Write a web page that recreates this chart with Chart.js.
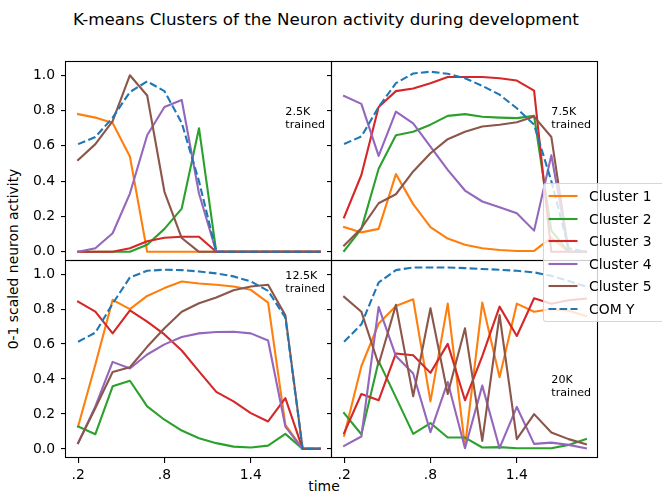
<!DOCTYPE html>
<html>
<head>
<meta charset="utf-8">
<title>K-means Clusters of the Neuron activity during development</title>
<script src="https://cdn.jsdelivr.net/npm/chart.js@4.4.1/dist/chart.umd.min.js"></script>
<style>
  html, body { margin: 0; padding: 0; background: #fff; }
  #fig { position: relative; width: 662px; height: 496px; overflow: hidden;
         font-family: "DejaVu Sans", sans-serif; color: #000; }
  #fig canvas { position: absolute; }
  .txt { position: absolute; white-space: nowrap; line-height: 1; transform: translate(-50%, -50%); }
  #legend { position: absolute; left: 543px; top: 183px; width: 126px; height: 139px; box-sizing: border-box;
            background: rgba(255,255,255,0.8); border: 1px solid rgba(204,204,204,0.8); border-radius: 3px; }
  #legend .row { position: absolute; left: 0; height: 16px; width: 130px; }
  #legend svg { position: absolute; left: 4px; top: 0; }
  #legend span { position: absolute; left: 45px; top: 0; font-size: 13.9px; line-height: 16px; white-space: nowrap; }
</style>
</head>
<body>
<div id="fig">
  <div class="txt" style="left:326px; top:19px; font-size:16.7px;">K-means Clusters of the Neuron activity during development</div>
  <div class="txt" style="left:14px; top:259px; font-size:13.9px; transform:translate(-50%,-50%) rotate(-90deg);">0-1 scaled neuron activity</div>
  <div class="txt" style="left:324px; top:487px; font-size:13.9px;">time</div>
  <canvas id="p25"></canvas>
  <canvas id="p75"></canvas>
  <canvas id="p125"></canvas>
  <canvas id="p20"></canvas>
  <div id="legend"></div>
</div>
<script>
// ---- series ----------------------------------------------------------
const seriesNames  = ['Cluster 1', 'Cluster 2', 'Cluster 3', 'Cluster 4', 'Cluster 5', 'COM Y'];
const seriesColors = ['#ff7f0e', '#2ca02c', '#d62728', '#9467bd', '#8c564b', '#1f77b4'];

// time axis: 15 sampling steps, labelled at a few of them
const timeTickSteps  = [0, 5, 10];
const timeTickLabels = ['.2', '.8', '1.4'];
const activityTicks  = [0, 0.2, 0.4, 0.6, 0.8, 1.0];

// 2.5K trained
const c1_2k5  = [0.78, 0.76, 0.73, 0.54, 0, 0, 0, 0, 0, 0, 0, 0, 0, 0, 0];
const c2_2k5  = [0, 0, 0, 0, 0.04, 0.13, 0.245, 0.70, 0, 0, 0, 0, 0, 0, 0];
const c3_2k5  = [0, 0, 0, 0.02, 0.06, 0.08, 0.085, 0.085, 0, 0, 0, 0, 0, 0, 0];
const c4_2k5  = [0, 0.02, 0.105, 0.33, 0.66, 0.82, 0.86, 0.33, 0, 0, 0, 0, 0, 0, 0];
const c5_2k5  = [0.52, 0.61, 0.74, 1.0, 0.885, 0.34, 0.078, 0, 0, 0, 0, 0, 0, 0, 0];
const com_2k5 = [0.61, 0.65, 0.76, 0.905, 0.965, 0.91, 0.73, 0.40, 0, 0, 0, 0, 0, 0, 0];

// 7.5K trained
const c1_7k5  = [0.14, 0.11, 0.13, 0.44, 0.27, 0.14, 0.075, 0.04, 0.02, 0.01, 0.005, 0.005, 0.08, 0, 0];
const c2_7k5  = [0.005, 0.13, 0.47, 0.66, 0.68, 0.72, 0.77, 0.78, 0.765, 0.76, 0.757, 0.77, 0.12, 0, 0];
const c3_7k5  = [0.195, 0.435, 0.82, 0.91, 0.925, 0.955, 0.99, 0.99, 0.99, 0.983, 0.97, 0.913, 0, 0, 0];
const c4_7k5  = [0.883, 0.838, 0.543, 0.794, 0.728, 0.596, 0.464, 0.347, 0.285, 0.253, 0.219, 0.12, 0.547, 0, 0];
const c5_7k5  = [0.036, 0.134, 0.275, 0.326, 0.455, 0.558, 0.638, 0.68, 0.71, 0.72, 0.734, 0.766, 0.65, 0, 0];
const com_7k5 = [0.611, 0.653, 0.82, 0.955, 1.01, 1.02, 1.008, 0.983, 0.94, 0.89, 0.813, 0.72, 0.40, 0.02, 0];

// 12.5K trained
const c1_12k5  = [0.128, 0.483, 0.853, 0.80, 0.875, 0.92, 0.958, 0.946, 0.939, 0.929, 0.91, 0.837, 0.138, 0, 0];
const c2_12k5  = [0.128, 0.084, 0.358, 0.39, 0.243, 0.167, 0.105, 0.061, 0.033, 0.013, 0.008, 0.019, 0.086, 0, 0];
const c3_12k5  = [0.843, 0.785, 0.661, 0.793, 0.728, 0.655, 0.563, 0.444, 0.326, 0.272, 0.205, 0.157, 0.291, 0, 0];
const c4_12k5  = [0.033, 0.243, 0.498, 0.46, 0.54, 0.598, 0.64, 0.661, 0.669, 0.67, 0.661, 0.62, 0.128, 0, 0];
const c5_12k5  = [0.033, 0.234, 0.44, 0.467, 0.584, 0.69, 0.785, 0.833, 0.866, 0.908, 0.929, 0.939, 0.764, 0, 0];
const com_12k5 = [0.613, 0.665, 0.831, 0.981, 1.019, 1.025, 1.023, 1.015, 1.004, 0.987, 0.958, 0.904, 0.751, 0, 0];

// 20K trained
const c1_20k  = [0.075, 0.473, 0.716, 0.818, 0.856, 0.272, 0.831, 0.013, 0.837, 0.41, 0.831, 0.785, 0.80, 0.79, 0.76];
const c2_20k  = [0.205, 0.084, 0.502, 0.295, 0.086, 0.148, 0.065, 0.065, 0.008, 0.01, 0.004, 0.004, 0.004, 0.023, 0.056];
const c3_20k  = [0.09, 0.314, 0.278, 0.546, 0.536, 0.435, 0.601, 0.278, 0.531, 0.814, 0.646, 0.862, 0.83, 0.85, 0.86];
const c4_20k  = [0.017, 0.071, 0.812, 0.531, 0.431, 0.096, 0.383, 0.004, 0.362, 0.004, 0.24, 0.029, 0.036, 0.023, 0.004];
const c5_20k  = [0.87, 0.785, 0.483, 0.824, 0.301, 0.805, 0.314, 0.69, 0.046, 0.766, 0.056, 0.199, 0.094, 0.056, 0.027];
const com_20k = [0.613, 0.713, 0.952, 1.023, 1.038, 1.038, 1.038, 1.034, 1.029, 1.025, 1.019, 1.01, 0.99, 0.96, 0.93];

const runNames = ['2.5K', '7.5K', '12.5K', '20K'];

// ---- shared axis limits (with a small margin around the data) -----------
const X_MIN = -0.7, X_MAX = 14.7;
const Y_MIN = -0.052, Y_MAX = 1.075;
const FONT = '"DejaVu Sans", sans-serif';

// box outline on all four sides of every panel
const framePlugin = {
  id: 'frame',
  afterDraw(chart) {
    const a = chart.chartArea, ctx = chart.ctx;
    const l = Math.round(a.left) - 0.5, t = Math.round(a.top) - 0.5;
    const r = Math.round(a.right) - 0.5, b = Math.round(a.bottom) - 0.5;
    ctx.save();
    ctx.strokeStyle = '#000';
    ctx.lineWidth = 1.1;
    ctx.strokeRect(l, t, r - l, b - t);
    ctx.restore();
  }
};

// "<run>\ntrained" note, anchored in data coordinates (baseline of last line)
const runNotePlugin = {
  id: 'runNote',
  afterDatasetsDraw(chart, args, opts) {
    if (!opts || !opts.lines) return;
    const ctx = chart.ctx;
    const x = chart.scales.x.getPixelForValue(opts.x);
    const y = chart.scales.y.getPixelForValue(opts.y);
    ctx.save();
    ctx.font = '11.1px ' + FONT;
    ctx.fillStyle = '#000';
    ctx.textAlign = 'left';
    ctx.textBaseline = 'alphabetic';
    const n = opts.lines.length;
    opts.lines.forEach((s, k) => ctx.fillText(s, x, y - (n - 1 - k) * 13));
    ctx.restore();
  }
};

function makeDatasets(series) {
  return seriesNames.map((name, k) => ({
    label: name,
    data: series[k].map((v, i) => ({ x: i, y: v })),
    borderColor: seriesColors[k],
    backgroundColor: seriesColors[k],
    borderWidth: 2.1,
    borderDash: k === 5 ? [7.7, 3.3] : [],
    borderJoinStyle: 'round',
    borderCapStyle: k === 5 ? 'butt' : 'square',
    pointRadius: 0,
    tension: 0,
    fill: false,
    order: k === 5 ? 0 : 5 - k
  }));
}

function makePanel(id, series, p) {
  const cv = document.getElementById(id);
  cv.width = p.box.w; cv.height = p.box.h;
  cv.style.left = p.box.x + 'px'; cv.style.top = p.box.y + 'px';
  cv.style.width = p.box.w + 'px'; cv.style.height = p.box.h + 'px';
  return new Chart(cv, {
    type: 'line',
    data: { datasets: makeDatasets(series) },
    options: {
      responsive: false,
      animation: false,
      devicePixelRatio: 1,
      events: [],
      layout: { padding: p.padding },
      plugins: {
        legend: { display: false },
        tooltip: { enabled: false },
        runNote: { x: 12, y: p.noteY, lines: [p.run, 'trained'] }
      },
      scales: {
        x: {
          type: 'linear', min: X_MIN, max: X_MAX,
          display: p.showX,
          afterBuildTicks: s => { s.ticks = timeTickSteps.map(v => ({ value: v })); },
          afterFit: s => { s.height = p.xHeight; },
          ticks: {
            autoSkip: false, maxRotation: 0, padding: 4, color: '#000',
            font: { family: FONT, size: 13.9 },
            callback: (v, i) => timeTickLabels[i]
          },
          grid: { drawOnChartArea: false, drawTicks: true, tickLength: 5, color: '#000', lineWidth: 1.1 },
          border: { display: false }
        },
        y: {
          type: 'linear', min: Y_MIN, max: Y_MAX,
          afterBuildTicks: s => { s.ticks = activityTicks.map(v => ({ value: v })); },
          afterFit: s => { s.width = p.yWidth; },
          ticks: {
            display: p.yLabels, padding: 6, color: '#000',
            font: { family: FONT, size: 13.9 },
            callback: v => v.toFixed(1)
          },
          grid: { drawOnChartArea: false, drawTicks: true, tickLength: 5, color: '#000', lineWidth: 1.1 },
          border: { display: false }
        }
      }
    },
    plugins: [framePlugin, runNotePlugin]
  });
}

// generous outer padding keeps the plot area fixed regardless of label overhang
const charts = [
  makePanel('p25', [c1_2k5, c2_2k5, c3_2k5, c4_2k5, c5_2k5, com_2k5], {
    run: runNames[0], noteY: 0.7, box: { x: 0, y: 42, w: 352, h: 239 },
    padding: { top: 20, right: 20, bottom: 20, left: 0 }, yWidth: 66, yLabels: true, showX: false, xHeight: 0 }),
  makePanel('p75', [c1_7k5, c2_7k5, c3_7k5, c4_7k5, c5_7k5, com_7k5], {
    run: runNames[1], noteY: 0.7, box: { x: 322, y: 42, w: 296, h: 239 },
    padding: { top: 20, right: 20, bottom: 20, left: 0 }, yWidth: 10, yLabels: false, showX: false, xHeight: 0 }),
  makePanel('p125', [c1_12k5, c2_12k5, c3_12k5, c4_12k5, c5_12k5, com_12k5], {
    run: runNames[2], noteY: 0.9, box: { x: 0, y: 241, w: 352, h: 255 },
    padding: { top: 20, right: 20, bottom: 0, left: 0 }, yWidth: 66, yLabels: true, showX: true, xHeight: 38 }),
  makePanel('p20', [c1_20k, c2_20k, c3_20k, c4_20k, c5_20k, com_20k], {
    run: runNames[3], noteY: 0.3, box: { x: 322, y: 241, w: 296, h: 255 },
    padding: { top: 20, right: 20, bottom: 0, left: 0 }, yWidth: 10, yLabels: false, showX: true, xHeight: 38 })
];

// figure legend, built from the datasets of the last panel
(function buildLegend() {
  const box = document.getElementById('legend');
  const ds = charts[3].data.datasets;
  ds.forEach((d, k) => {
    const row = document.createElement('div');
    row.className = 'row';
    row.style.top = (4 + k * 22.6) + 'px';
    const dash = d.borderDash.length ? `stroke-dasharray="${d.borderDash.join(' ')}"` : '';
    row.innerHTML =
      `<svg width="30" height="16"><line x1="0.5" y1="8" x2="29.5" y2="8" stroke="${d.borderColor}" stroke-width="${d.borderWidth}" ${dash}/></svg>` +
      `<span>${d.label}</span>`;
    box.appendChild(row);
  });
})();
</script>
</body>
</html>
